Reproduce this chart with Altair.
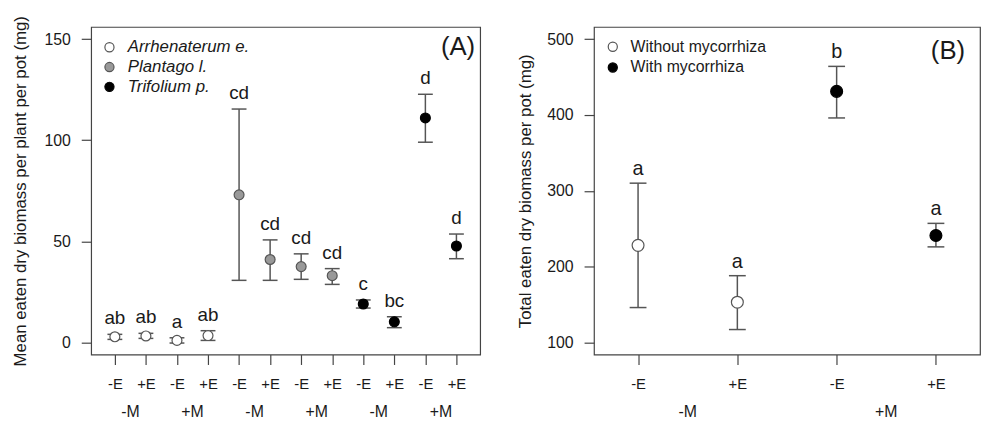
import altair as alt
import pandas as pd

# ---------------- Panel A data ----------------
species = ["Arrhenaterum e."] * 4 + ["Plantago l."] * 4 + ["Trifolium p."] * 4
endophyte_a = ["-E", "+E"] * 6
mycorrhiza_a = ["-M", "-M", "+M", "+M"] * 3
mean_a = [2.8, 3.2, 1.0, 3.4, 73.0, 41.0, 37.5, 33.0, 19.0, 10.2, 111.0, 47.7]
low_a = [1.5, 2.0, -0.3, 1.0, 30.7, 30.7, 31.2, 28.7, 17.0, 7.3, 99.0, 41.4]
up_a = [4.0, 4.5, 2.3, 5.8, 115.4, 50.7, 43.8, 36.5, 21.0, 12.7, 122.7, 53.6]
letters_a = ["ab", "ab", "a", "ab", "cd", "cd", "cd", "cd", "c", "bc", "d", "d"]
y_ticks_a = [0, 50, 100, 150]

# ---------------- Panel B data ----------------
treatment_b = ["Without mycorrhiza"] * 2 + ["With mycorrhiza"] * 2
endophyte_b = ["-E", "+E", "-E", "+E"]
mycorrhiza_b = ["-M", "-M", "+M", "+M"]
mean_b = [228, 153, 431, 241]
low_b = [146, 117, 396, 226]
up_b = [310, 188, 464, 257]
letters_b = ["a", "a", "b", "a"]
y_ticks_b = [100, 200, 300, 400, 500]

panel_labels = ["(A)", "(B)"]

FONT = "Liberation Sans"
LINE = "#555555"
TEXT = "#1a1a1a"


def build_panel(df, group_field, fill_range, stroke_range, legend_italic,
                x_domain, y_domain, y_ticks, y_title, title_pad,
                width, height, pt_size, cap_half, letter_dy, letter_size,
                legend_x, legend_y, legend_font, legend_row_pad,
                panel_label, label_x, label_y):
    df = df.copy()
    df["pos"] = range(1, len(df) + 1)
    mgroups = df.groupby([group_field, "mycorrhiza"], sort=False)["pos"].mean().reset_index() \
        if group_field == "species" else df.groupby(["mycorrhiza"], sort=False)["pos"].mean().reset_index()

    expr = "[" + ",".join("'" + e + "'" for e in df["endophyte"]) + "][datum.value - 1]"
    xscale = alt.Scale(domain=x_domain, nice=False, zero=False)
    yscale = alt.Scale(domain=y_domain, nice=False, zero=False)
    xaxis = alt.Axis(values=list(df["pos"]), labelExpr=expr, title=None, tickSize=10,
                     labelPadding=12, labelFontSize=15, labelAngle=0)
    yaxis = alt.Axis(values=y_ticks, title=y_title, tickSize=10, labelPadding=11,
                     labelFontSize=16, titleFontSize=17, titlePadding=title_pad)

    def X():
        return alt.X("pos:Q", scale=xscale, axis=xaxis)

    def Y(field):
        return alt.Y(field + ":Q", scale=yscale, axis=yaxis)

    base = alt.Chart(df)
    bars = base.mark_rule(color=LINE, strokeWidth=1.5).encode(x=X(), y=Y("low"), y2="up:Q")
    cap_lo = base.mark_rule(color=LINE, strokeWidth=1.5, xOffset=-cap_half, x2Offset=cap_half).encode(
        x=X(), x2="pos:Q", y=Y("low"))
    cap_hi = base.mark_rule(color=LINE, strokeWidth=1.5, xOffset=-cap_half, x2Offset=cap_half).encode(
        x=X(), x2="pos:Q", y=Y("up"))

    legend = alt.Legend(title=None, orient="none", legendX=legend_x, legendY=legend_y,
                        symbolType="circle", symbolSize=85, symbolStrokeWidth=1.2,
                        labelFontSize=legend_font, labelFontStyle=legend_italic,
                        labelColor=TEXT, labelOffset=10, rowPadding=legend_row_pad, padding=0)
    domain = list(dict.fromkeys(df[group_field]))
    points = base.mark_point(filled=True, shape="circle", size=pt_size, strokeWidth=1.2, opacity=1).encode(
        x=X(), y=Y("mean"),
        fill=alt.Fill(group_field + ":N", scale=alt.Scale(domain=domain, range=fill_range), legend=legend),
        stroke=alt.Stroke(group_field + ":N", scale=alt.Scale(domain=domain, range=stroke_range), legend=legend),
    )
    letters = base.mark_text(dy=letter_dy, baseline="alphabetic", fontSize=letter_size, color=TEXT).encode(
        x=X(), y=Y("up"), text="letter:N")
    mlab = alt.Chart(mgroups).mark_text(baseline="alphabetic", fontSize=16, color=TEXT).encode(
        x=X(), y=alt.value(height + 63), text="mycorrhiza:N")
    plabel = alt.Chart(pd.DataFrame({"label": [panel_label]})).mark_text(
        align="right", baseline="alphabetic", fontSize=26, color=TEXT).encode(
        text="label:N", x=alt.value(label_x), y=alt.value(label_y))
    return alt.layer(bars, cap_lo, cap_hi, points, letters, mlab, plabel).properties(width=width, height=height)


df_a = pd.DataFrame({"species": species, "endophyte": endophyte_a, "mycorrhiza": mycorrhiza_a,
                     "mean": mean_a, "low": low_a, "up": up_a, "letter": letters_a})
df_b = pd.DataFrame({"treatment": treatment_b, "endophyte": endophyte_b, "mycorrhiza": mycorrhiza_b,
                     "mean": mean_b, "low": low_b, "up": up_b, "letter": letters_b})

chart_a = build_panel(df_a, "species", ["#ffffff", "#999999", "#000000"], [LINE, LINE, "#000000"], "italic",
                      [0.236, 12.764], [-6, 156], y_ticks_a,
                      "Mean eaten dry biomass per plant per pot (mg)", 12.5,
                      393, 331, 100, 7.5, -10, 19,
                      10, 12, 17, 2, panel_labels[0], 388, 28)

chart_b = build_panel(df_b, "treatment", ["#ffffff", "#000000"], [LINE, "#000000"], "normal",
                      [0.556, 4.444], [84, 516], y_ticks_b,
                      "Total eaten dry biomass per pot (mg)", 10.5,
                      390, 331, 144, 8.5, -8, 20,
                      11, 12, 16, 5, panel_labels[1], 375, 32)

chart = alt.hconcat(chart_a, chart_b, spacing=115, bounds="flush").resolve_scale(
    fill="independent", stroke="independent", x="independent", y="independent"
).resolve_legend(fill="independent", stroke="independent").properties(
    padding={"left": 2, "top": 4, "right": 0, "bottom": 0}
).configure(font=FONT).configure_view(stroke="#444444", strokeWidth=1.2).configure_axis(
    domain=False, grid=False, tickColor="#444444", tickWidth=1.2, labelColor=TEXT, titleColor=TEXT,
    titleFontWeight="normal", labelFont=FONT, titleFont=FONT
).configure_axisY(minExtent=50, maxExtent=50)

chart.save("out.html", embed_options={"renderer": "svg", "actions": False})
